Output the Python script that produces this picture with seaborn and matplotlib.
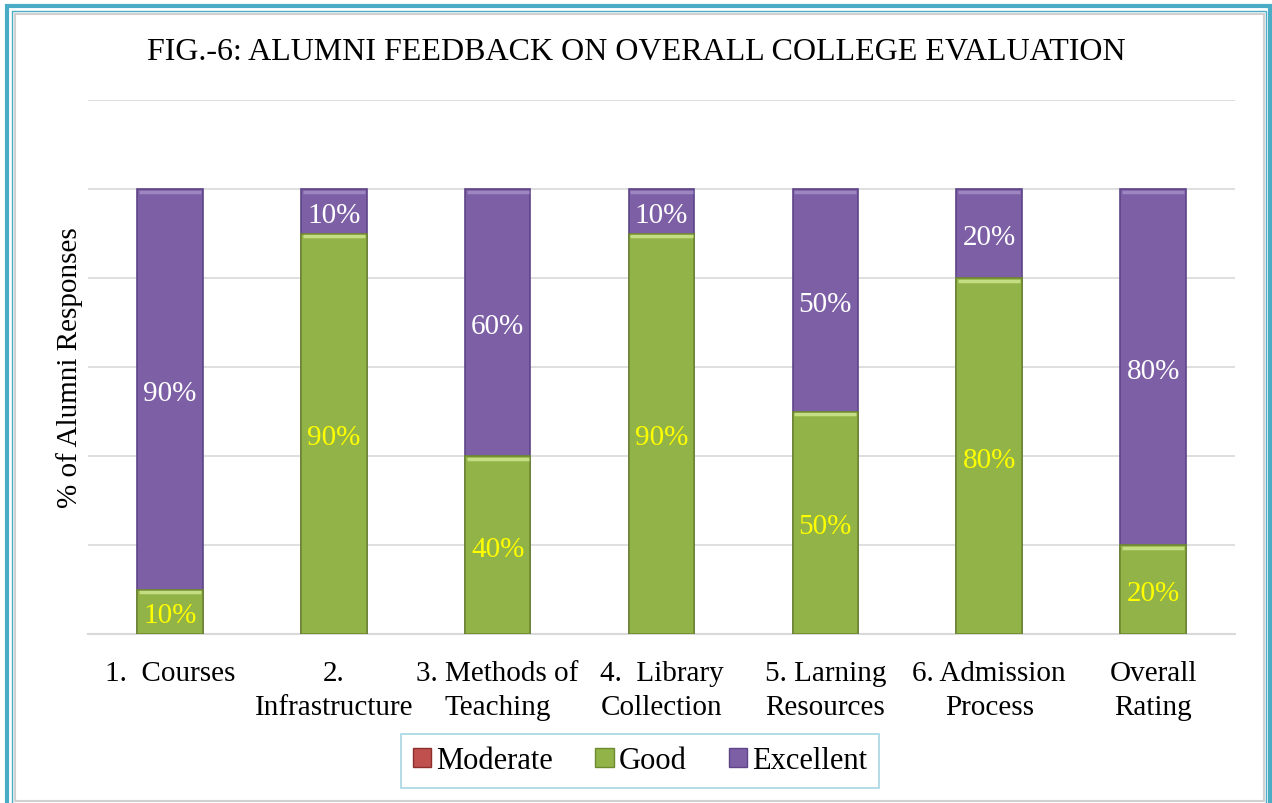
import matplotlib
matplotlib.use('Agg')
import matplotlib.pyplot as plt
import matplotlib.patches as mpatches
import seaborn as sns
import numpy as np
import pandas as pd

categories = ['1.  Courses', '2.\nInfrastructure', '3. Methods of\nTeaching',
              '4.  Library\nCollection', '5. Larning\nResources', '6. Admission\nProcess',
              'Overall\nRating']
moderate = [0, 0, 0, 0, 0, 0, 0]
good = [10, 90, 40, 90, 50, 80, 20]
excellent = [90, 10, 60, 10, 50, 20, 80]

purple = '#7D5FA6'
purple_dark = '#5E4488'
green = '#92B347'
green_dark = '#6E8A2E'
red = '#C0504D'

sns.set_theme(style='white')
plt.rcParams['font.family'] = ['Liberation Serif', 'DejaVu Serif']
plt.rcParams['text.color'] = 'black'
plt.rcParams['axes.labelcolor'] = 'black'
plt.rcParams['xtick.color'] = 'black'

W, H = 1272, 804
fig = plt.figure(figsize=(W / 100, H / 100), dpi=100)
ax = fig.add_axes([88 / W, 1 - 635 / H, (1235 - 88) / W, (635 - 101) / H])

df = pd.DataFrame({'cat': categories, 'good': good, 'excellent': excellent})
df['total'] = df['good'] + df['excellent']

sns.barplot(data=df, x='cat', y='total', color=purple, width=0.4, ax=ax,
            edgecolor=purple_dark, linewidth=1.2, saturation=1, zorder=3)
sns.barplot(data=df, x='cat', y='good', color=green, width=0.4, ax=ax,
            edgecolor=green_dark, linewidth=1.2, saturation=1, zorder=4)

# light top edge to hint at the bevel look
for i, (g, e) in enumerate(zip(good, excellent)):
    ax.plot([i - 0.19, i + 0.19], [g - 0.6, g - 0.6], color='#C5DE83', lw=2.5, zorder=5,
            solid_capstyle='butt')
    ax.plot([i - 0.19, i + 0.19], [g + e - 0.6, g + e - 0.6], color='#9E86C2', lw=2.5, zorder=5,
            solid_capstyle='butt')

for i, (g, e) in enumerate(zip(good, excellent)):
    ax.text(i, g / 2 - 0.8, f'{g}%', ha='center', va='center', color='#FFFF00',
            fontsize=21, zorder=6)
    ax.text(i, g + e / 2 - 0.8, f'{e}%', ha='center', va='center', color='white',
            fontsize=21, zorder=6)

ax.set_ylim(0, 120)
ax.set_xlim(-0.5, len(categories) - 0.5)
ax.set_yticks(np.arange(0, 121, 20))
ax.set_yticklabels([])
ax.tick_params(axis='y', length=0)
ax.tick_params(axis='x', length=0, labelsize=21, pad=19)
plt.setp(ax.get_xticklabels(), linespacing=1.4)
ax.yaxis.grid(True, color='#D9D9D9', linewidth=1.2, zorder=0)
ax.set_axisbelow(True)
for s in ['top', 'right', 'left']:
    ax.spines[s].set_visible(False)
ax.spines['bottom'].set_color('#D9D9D9')
ax.spines['bottom'].set_linewidth(1.5)
ax.set_xlabel('')
ax.set_ylabel('% of Alumni Responses', fontsize=21, labelpad=0)

fig.text(0.5, 1 - 52 / H, 'FIG.-6: ALUMNI FEEDBACK ON OVERALL COLLEGE EVALUATION',
         ha='center', va='center', fontsize=23)

handles = [mpatches.Patch(facecolor=red, edgecolor='#8B2E2C', label='Moderate'),
           mpatches.Patch(facecolor=green, edgecolor=green_dark, label='Good'),
           mpatches.Patch(facecolor=purple, edgecolor=purple_dark, label='Excellent')]
leg = fig.legend(handles=handles, loc='center', bbox_to_anchor=(640 / W, 1 - 762 / H),
                 ncol=3, fontsize=22, frameon=True, fancybox=False,
                 handlelength=0.6, handleheight=0.6, handletextpad=0.15,
                 columnspacing=1.4, borderpad=0.4)
leg.get_frame().set_edgecolor('#92CDDC')
leg.get_frame().set_linewidth(1.2)

# page-style frame around the chart
def frame(x0, y0, x1, y1, color, lw):
    fig.patches.append(mpatches.Rectangle((x0 / W, 1 - y1 / H), (x1 - x0) / W, (y1 - y0) / H,
                                          transform=fig.transFigure, fill=False,
                                          edgecolor=color, linewidth=lw))

frame(7, 7, 1270, 830, '#4BACC6', 3.0)
frame(11.5, 11.5, 1266, 826, '#4BACC6', 1.0)
frame(15, 15, 1264, 802, '#D0D0D0', 1.5)

fig.savefig('out.png', dpi=100)
